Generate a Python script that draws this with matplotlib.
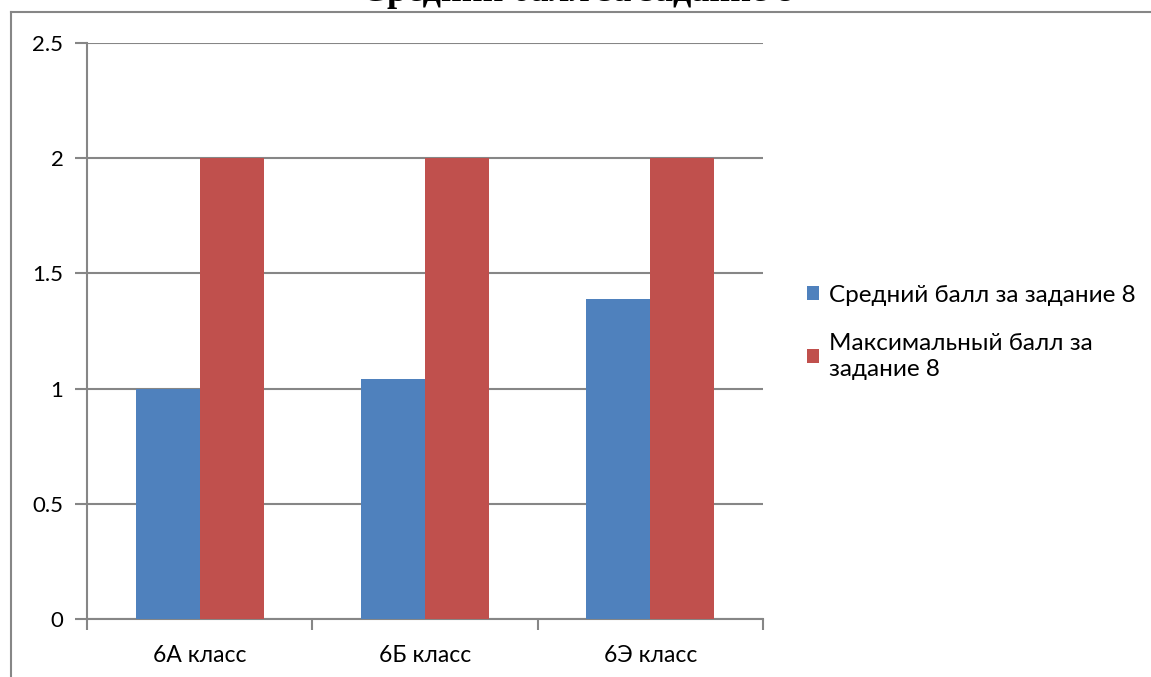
import numpy as np
import matplotlib.pyplot as plt

# ---------------- data ----------------
classes = ["6А класс", "6Б класс", "6Э класс"]
avg_score = [1.0, 1.04, 1.39]
max_score = [2, 2, 2]
series_names = ["Средний балл за задание 8", "Максимальный балл за\nзадание 8"]
title = "Средний балл за задание 8"

plt.rcParams['font.family'] = ['Lato', 'DejaVu Sans']

W, H = 1151, 677
fig = plt.figure(figsize=(W / 100, H / 100), dpi=100)

# plot area in pixels: x 87..763, y 43..619
ax = fig.add_axes([87 / W, 1 - 619 / H, (763 - 87) / W, (619 - 43) / H])

x = np.arange(len(classes))
bw = 0.284
grey = "#868686"

ax.bar(x - bw / 2, avg_score, bw, color="#4f81bd", label=series_names[0], zorder=3)
ax.bar(x + bw / 2, max_score, bw, color="#c0504d", label=series_names[1], zorder=3)

ax.set_xlim(-0.5, len(classes) - 0.5)
ax.set_ylim(0, 2.5)
ax.set_yticks([0, 0.5, 1, 1.5, 2, 2.5])
ax.set_yticklabels(["0", "0.5", "1", "1.5", "2", "2.5"])
ax.yaxis.grid(True, color=grey, linewidth=1.5, zorder=0)

ax.set_xticks(x)
ax.set_xticklabels(classes)
ax.set_xticks(np.arange(len(classes) + 1) - 0.5, minor=True)
ax.tick_params(axis='x', which='major', length=0, pad=19, labelsize=16.5)
ax.tick_params(axis='x', which='minor', length=8, width=1.5, color=grey, direction='out')
ax.tick_params(axis='y', length=9, width=1.5, color=grey, pad=8, labelsize=16)

for s in ["top", "right"]:
    ax.spines[s].set_visible(False)
for s in ["left", "bottom"]:
    ax.spines[s].set_color(grey)
    ax.spines[s].set_linewidth(1.5)

leg = fig.legend(loc="upper left", bbox_to_anchor=(785 / W, 1 - 263 / H),
                 frameon=False, fontsize=17.5, handlelength=0.5, handleheight=0.5,
                 handletextpad=0.4, labelspacing=1.1)
for t in leg.get_texts():
    t.set_linespacing(1.3)

# outer chart border (left and top edges visible)
fig.add_artist(plt.Line2D([11 / W, 11 / W], [0, 1 - 12 / H], color=grey, linewidth=1.5))
fig.add_artist(plt.Line2D([11 / W, 1], [1 - 12 / H, 1 - 12 / H], color=grey, linewidth=1.5))

# title, clipped by the top of the picture
fig.text(578 / W, 1 - 1 / H, title, ha="center", va="baseline",
         family="Liberation Serif", fontweight="bold", fontsize=26)

fig.savefig("out.png", dpi=100, facecolor="white")
